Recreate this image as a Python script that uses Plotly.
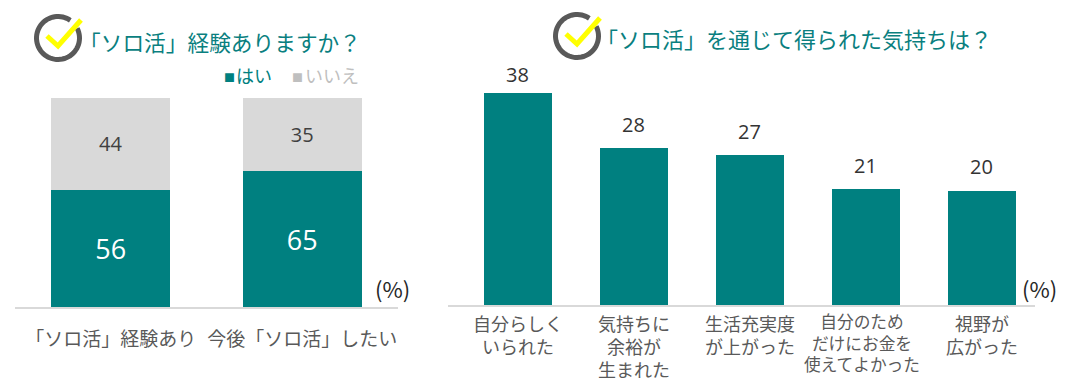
import math
import plotly.graph_objects as go

W, H = 1071, 385
JP = "Noto Sans CJK JP"
TEAL = "#008080"
GREY = "#d9d9d9"

left_categories = ["「ソロ活」経験あり", "今後「ソロ活」したい"]
yes_values = [56, 65]
no_values = [44, 35]

right_categories = ["自分らしく<br>いられた", "気持ちに<br>余裕が<br>生まれた", "生活充実度<br>が上がった",
                    "自分のため<br>だけにお金を<br>使えてよかった", "視野が<br>広がった"]
right_values = [38.0, 28.1, 26.9, 20.8, 20.5]
right_labels = [38, 28, 27, 21, 20]
small_category = right_categories[3]

def px(x): return x / W
def py(y): return 1 - y / H

fig = go.Figure()
fig.add_trace(go.Bar(x=left_categories, y=yes_values, name="はい", marker_color=TEAL, marker_line_width=0,
                     width=0.62, text=yes_values, textposition="inside", insidetextanchor="middle",
                     textfont=dict(color="white", size=27, family="Open Sans"), xaxis="x", yaxis="y"))
fig.add_trace(go.Bar(x=left_categories, y=no_values, name="いいえ", marker_color=GREY, marker_line_width=0,
                     width=0.62, text=no_values, textposition="inside", insidetextanchor="middle",
                     textfont=dict(color="#404040", size=20, family="Open Sans"), xaxis="x", yaxis="y"))
fig.add_trace(go.Bar(x=right_categories, y=right_values, marker_color=TEAL, marker_line_width=0,
                     width=0.586, xaxis="x2", yaxis="y2"))

annotations = []
def note(text, x, y, size, color, anchor="left"):
    annotations.append(dict(text=text, x=px(x), y=py(y), xref="paper", yref="paper", showarrow=False,
                            xanchor=anchor, yanchor="middle", align="center",
                            font=dict(size=size, color=color, family=JP)))

note("「ソロ活」経験ありますか？", 76.5, 41, 21.7, "#0a7f7f")
note("「ソロ活」を通じて得られた気持ちは？", 594, 38, 22, "#0a7f7f")
note("■", 229, 77, 11, TEAL, "center")
note("はい", 234, 75, 18, TEAL)
note("■", 297, 77, 11, "#bfbfbf", "center")
note("いいえ", 303, 75, 18, "#bfbfbf")
note("(%)", 392, 288, 22, "#262626", "center")
note("(%)", 1039, 288, 22, "#262626", "center")

for cat, val, lab in zip(right_categories, right_values, right_labels):
    annotations.append(dict(text=str(lab), x=cat, y=val, xref="x2", yref="y2", showarrow=False,
                            xanchor="center", yanchor="middle", yshift=19 if lab == 38 else 24,
                            font=dict(size=20, color="#333333", family="Open Sans")))

annotations.append(dict(text=small_category, x=small_category, y=py(342), xref="x2", yref="paper", showarrow=False,
                        xanchor="center", yanchor="middle", align="center", xshift=-4,
                        font=dict(size=16.7, color="#595959", family=JP)))

def icon(cx, cy, check):
    r = 21.5
    pts = []
    for i in range(61):
        a = math.radians(55 + (360 - 28) * i / 60)
        pts.append((cx + r * math.cos(a), cy - r * math.sin(a)))
    ring = "M " + " L ".join(f"{px(x):.5f} {py(y):.5f}" for x, y in pts)
    tick = "M " + " L ".join(f"{px(x):.5f} {py(y):.5f}" for x, y in check)
    return [
        dict(type="path", xref="paper", yref="paper", path=ring, line=dict(color="#595959", width=5)),
        dict(type="path", xref="paper", yref="paper", path=tick, line=dict(color="#ffff00", width=5)),
    ]

shapes = icon(58, 38, [(47, 36), (58, 46), (81, 20)]) + icon(577, 36, [(566, 34), (577, 44), (600, 18)])

axis_line = dict(showline=True, linecolor=GREY, linewidth=2, ticks="", ticklen=0, showgrid=False, zeroline=False,
                 fixedrange=True, type="category")
fig.update_layout(
    width=W, height=H, autosize=False, margin=dict(l=0, r=0, t=0, b=0),
    paper_bgcolor="white", plot_bgcolor="white", barmode="stack", showlegend=False,
    font=dict(family=JP), annotations=annotations, shapes=shapes,
    xaxis=dict(domain=[px(15), px(398)], range=[-0.5, 1.5], ticklabelstandoff=14,
               tickfont=dict(size=19, color="#595959", family=JP), **axis_line),
    yaxis=dict(domain=[py(307), py(98)], range=[0, 100], visible=False, fixedrange=True),
    xaxis2=dict(domain=[px(448), px(1035)], range=[-0.603, 4.457], anchor="y2", ticklabelstandoff=2,
                tickfont=dict(size=18, color="#595959", family=JP),
                tickmode="array", tickvals=right_categories,
                ticktext=[c if c != small_category else " " for c in right_categories], **axis_line),
    yaxis2=dict(domain=[py(305), py(82)], range=[0, 40], visible=False, fixedrange=True, anchor="x2"),
)
fig.write_html("out.html", config=dict(displayModeBar=False),
               post_script="document.body.style.margin='0';")
